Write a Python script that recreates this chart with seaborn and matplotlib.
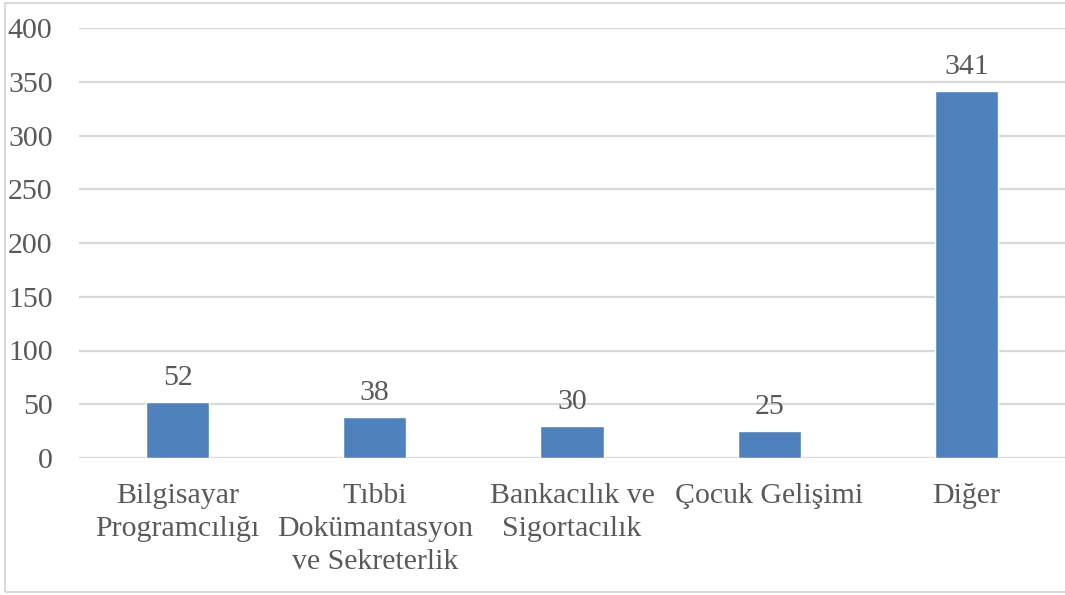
import matplotlib
matplotlib.use("Agg")
import matplotlib.pyplot as plt
import seaborn as sns
from matplotlib.patches import Rectangle

kategoriler = ["Bilgisayar\nProgramcılığı", "Tıbbi\nDokümantasyon\nve Sekreterlik",
               "Bankacılık ve\nSigortacılık", "Çocuk Gelişimi", "Diğer"]
degerler = [52, 38, 30, 25, 341]
y_ticks = [0, 50, 100, 150, 200, 250, 300, 350, 400]

sns.set_theme(style="white")
plt.rcParams['font.family'] = ['Liberation Serif', 'DejaVu Serif']

renk_yazi = "#595959"
renk_izgara = "#D9D9D9"

fig = plt.figure(figsize=(10.65, 5.95), dpi=100)
ax = fig.add_axes([79 / 1065, 137 / 595, 1 - 79 / 1065, 430 / 595])

sns.barplot(x=kategoriler, y=degerler, color="#4F81BD", width=0.32,
            saturation=1, ax=ax, zorder=3)

ax.set_ylim(0, 400)
ax.set_yticks(y_ticks)
ax.yaxis.grid(True, color=renk_izgara, linewidth=1.6, zorder=0)
ax.set_axisbelow(True)
for s in ax.spines.values():
    s.set_visible(False)
ax.tick_params(axis="y", length=0, pad=19, labelsize=21.5, labelcolor=renk_yazi)
ax.tick_params(axis="x", length=0, pad=18, labelsize=21.5, labelcolor=renk_yazi)
for lbl in ax.get_xticklabels():
    lbl.set_linespacing(1.34)
    lbl.set_verticalalignment("top")
ax.set_xlabel("")
ax.set_ylabel("")

ax.bar_label(ax.containers[0], labels=[str(v) for v in degerler], padding=8,
             fontsize=21.5, color=renk_yazi)

fig.patches.append(Rectangle((5 / 1065, 3 / 595), 1.0, 589 / 595,
                             transform=fig.transFigure, fill=False,
                             edgecolor=renk_izgara, linewidth=1.5))

fig.savefig("out.png", dpi=100)
